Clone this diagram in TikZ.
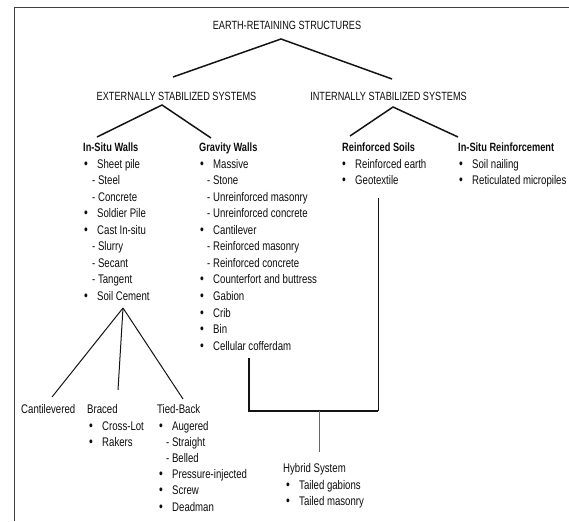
\documentclass[tikz,border=0pt]{standalone}
\usepackage{fontspec}
\setmainfont{Liberation Sans}[FakeStretch=0.77]
\newcommand\bu{\makebox[13pt][l]{\fontsize{14}{14}\selectfont\textbullet}}
\begin{document}
\begin{tikzpicture}[x=1pt,y=-1pt,
  txt/.style={anchor=base west, inner sep=0pt, font=\fontsize{12.5}{14}\selectfont, text=black!95},
  hd/.style={txt, font=\fontsize{12}{14}\selectfont\bfseries},
  captxt/.style={anchor=base, inner sep=0pt, font=\fontsize{11.9}{14}\selectfont, text=black!95},
  br/.style={line width=1.5pt, black!92},
  thinbr/.style={line width=1pt, black!92},
  bracketline/.style={line width=2.1pt, black!92},
  stemline/.style={line width=1pt, black!60},
  frameline/.style={line width=1.4pt, black!75}]
\useasboundingbox (0,0) rectangle (569,521);
\draw[frameline] (14.5,521) -- (14.5,7.5) -- (569,7.5);

% level 1 and 2
\node[captxt] (title) at (287,30) {EARTH-RETAINING STRUCTURES};
\node[captxt] (ext) at (176.5,101) {EXTERNALLY STABILIZED SYSTEMS};
\node[captxt] (int) at (388.5,101) {INTERNALLY STABILIZED SYSTEMS};

% In-situ walls
\node[hd]  (isw) at (83,151.5) {In-Situ Walls};
\node[txt] (isw1) at (84,168.05) {\bu Sheet pile};
\node[txt] (isw2) at (92,184.6) {- Steel};
\node[txt] (isw3) at (92,201.15) {- Concrete};
\node[txt] (isw4) at (84,217.7) {\bu Soldier Pile};
\node[txt] (isw5) at (84,234.25) {\bu Cast In-situ};
\node[txt] (isw6) at (92,250.8) {- Slurry};
\node[txt] (isw7) at (92,267.35) {- Secant};
\node[txt] (isw8) at (92,283.9) {- Tangent};
\node[txt] (isw9) at (84,300.45) {\bu Soil Cement};

% Gravity walls
\node[hd]  (gw) at (199,151.5) {Gravity Walls};
\node[txt] (gw1) at (200,168.05) {\bu Massive};
\node[txt] (gw2) at (207,184.6) {- Stone};
\node[txt] (gw3) at (207,201.15) {- Unreinforced masonry};
\node[txt] (gw4) at (207,217.7) {- Unreinforced concrete};
\node[txt] (gw5) at (200,234.25) {\bu Cantilever};
\node[txt] (gw6) at (207,250.8) {- Reinforced masonry};
\node[txt] (gw7) at (207,267.35) {- Reinforced concrete};
\node[txt] (gw8) at (200,283.9) {\bu Counterfort and buttress};
\node[txt] (gw9) at (200,300.45) {\bu Gabion};
\node[txt] (gw10) at (200,317) {\bu Crib};
\node[txt] (gw11) at (200,333.55) {\bu Bin};
\node[txt] (gw12) at (200,350.1) {\bu Cellular cofferdam};

% Reinforced soils
\node[hd]  (rs) at (342,151.5) {Reinforced Soils};
\node[txt] (rs1) at (342,168.05) {\bu Reinforced earth};
\node[txt] (rs2) at (342,184.6) {\bu Geotextile};

% In-situ reinforcement
\node[hd]  (isr) at (458,151.5) {In-Situ Reinforcement};
\node[txt] (isr1) at (459,168.05) {\bu Soil nailing};
\node[txt] (isr2) at (459,184.6) {\bu Reticulated micropiles};

% Soil cement children
\node[txt] (cant) at (21,413.5) {Cantilevered};
\node[txt] (brc) at (87,413.5) {Braced};
\node[txt] (brc1) at (89,430.5) {\bu Cross-Lot};
\node[txt] (brc2) at (89,446.5) {\bu Rakers};
\node[txt] (tb) at (157,413.5) {Tied-Back};
\node[txt] (tb1) at (159,430.5) {\bu Augered};
\node[txt] (tb2) at (166,446.5) {- Straight};
\node[txt] (tb3) at (166,462.5) {- Belled};
\node[txt] (tb4) at (159,478.5) {\bu Pressure-injected};
\node[txt] (tb5) at (159,494.5) {\bu Screw};
\node[txt] (tb6) at (159,511) {\bu Deadman};

% Hybrid
\node[txt] (hy) at (283,472.5) {Hybrid System};
\node[txt] (hy1) at (286,489.5) {\bu Tailed gabions};
\node[txt] (hy2) at (286,505.5) {\bu Tailed masonry};

% connector end points
\coordinate (cT) at (281,39);
\coordinate (cE) at (173,77);
\coordinate (cI) at (392,79);
\coordinate (cEa) at (162,105);
\coordinate (cE1) at (97,137);
\coordinate (cE2) at (211,138);
\coordinate (cIa) at (393,107);
\coordinate (cI1) at (350,136);
\coordinate (cI2) at (458,137);
\coordinate (cS) at (123,308);
\coordinate (cS1) at (52,397);
\coordinate (cS2) at (118,390);
\coordinate (cS3) at (183,399);
\coordinate (cB1) at (249,358);
\coordinate (cB2) at (249,411);
\coordinate (cB3) at (378,411);
\coordinate (cB4) at (378,198);
\coordinate (cH1) at (319,411);
\coordinate (cH2) at (319,452);

\draw[br] (cE) -- (cT) -- (cI);
\draw[br] (cE1) -- (cEa) -- (cE2);
\draw[br] (cI1) -- (cIa) -- (cI2);
\draw[thinbr] (cS1) -- (cS);
\draw[thinbr] (cS2) -- (cS);
\draw[thinbr] (cS3) -- (cS);
\draw[bracketline] (cB1) -- (cB2) -- (cB3);
\draw[thinbr] (cB3) -- (cB4);
\draw[stemline] (cH1) -- (cH2);
\end{tikzpicture}
\end{document}
